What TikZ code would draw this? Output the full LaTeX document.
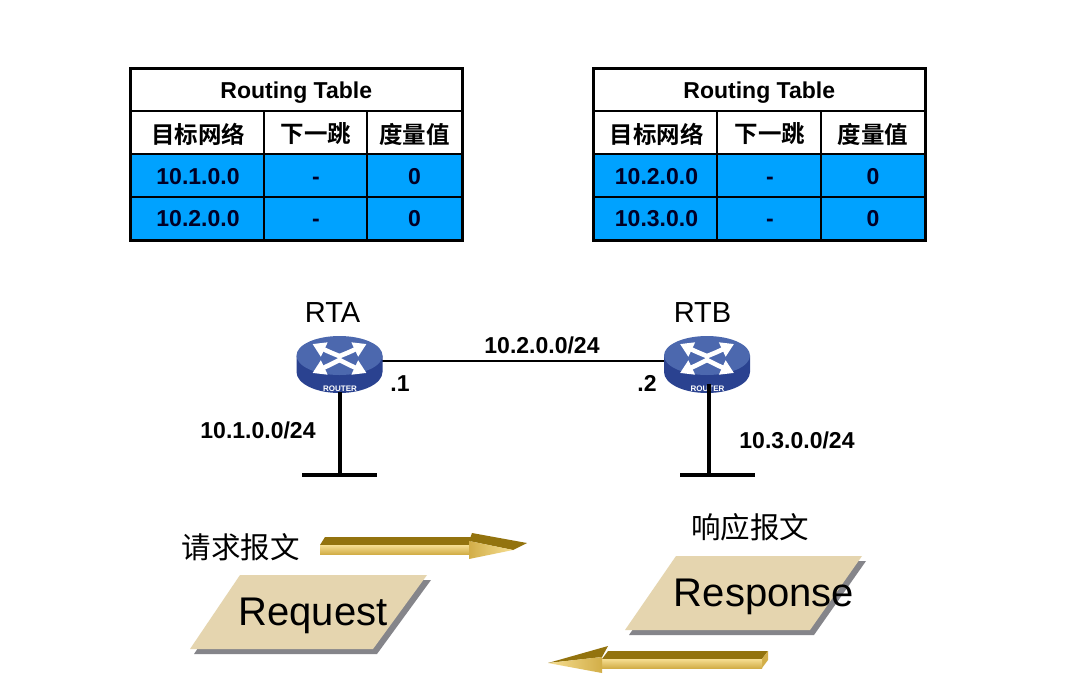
\documentclass[tikz,border=0pt]{standalone}
\usepackage{fontspec}
\setmainfont{Liberation Sans}
\newfontfamily\cjk{Noto Sans CJK SC}
\newfontfamily\cjkb{Noto Sans CJK SC Bold}
\usetikzlibrary{arrows.meta}
\definecolor{cellblue}{HTML}{00A2FF}
\definecolor{tanfill}{HTML}{E5D5AF}
\definecolor{shadegrey}{HTML}{85858A}
\definecolor{rtop}{HTML}{4C68AE}
\definecolor{rside}{HTML}{2A4290}
\definecolor{gdark}{HTML}{93730E}
\definecolor{gmid}{HTML}{D2AE48}
\definecolor{glight}{HTML}{F6DE92}
\tikzset{
 tline/.style={draw=black,line width=1.6pt},
 touter/.style={draw=black,line width=3pt},
 ttitle/.style={anchor=base,inner sep=0,font=\fontsize{23}{24}\selectfont\bfseries,text=black},
 thead/.style={inner sep=0,font=\fontsize{23.5}{25}\selectfont\cjkb,text=black},
 tcell/.style={anchor=base,inner sep=0,font=\fontsize{23}{25}\selectfont\bfseries,text=black!85!blue},
 rname/.style={anchor=base,inner sep=0,font=\fontsize{29}{31}\selectfont},
 netl/.style={anchor=base,inner sep=0,font=\fontsize{23}{25}\selectfont\bfseries},
 cjkl/.style={inner sep=0,font=\fontsize{29.5}{31}\selectfont\cjk},
 msgl/.style={anchor=base,inner sep=0,font=\fontsize{40}{42}\selectfont},
 link/.style={draw=black,line width=2pt},
 stub/.style={draw=black,line width=4pt},
 rarr/.style={draw=white,line width=4.6pt,-{Triangle[length=13pt,width=15pt]}},
}
% #1 prefix, #2 left, #3 col1, #4 col2, #5 right, #6 net row 1, #7 net row 2, #8 centre of col 0, #9 centre of col 1
\newcommand{\rtable}[9]{%
 \fill[white] (#2,68.5) rectangle (#5,240);
 \fill[cellblue] (#2,154) rectangle (#5,240);
 \draw[tline] (#2,111) -- (#5,111) (#2,154) -- (#5,154) (#2,197) -- (#5,197);
 \draw[tline] (#3,111) -- (#3,240) (#4,111) -- (#4,240);
 \draw[touter] (#2,68.5) rectangle (#5,240);
 \node[ttitle] (#1title) at ({(#2+#5)/2},98) {Routing Table};
 \node[thead] (#1h1) at (#8,134) {目标网络};
 \node[thead] (#1h2) at (#9,134) {下一跳};
 \node[thead] (#1h3) at ({(#4+#5)/2},134) {度量值};
 \node[tcell] (#1a1) at (#8,184) {#6};
 \node[tcell] (#1a2) at (#9,184) {-};
 \node[tcell] (#1a3) at ({(#4+#5)/2},184) {0};
 \node[tcell] (#1b1) at (#8,226) {#7};
 \node[tcell] (#1b2) at (#9,226) {-};
 \node[tcell] (#1b3) at ({(#4+#5)/2},226) {0};
}
\newcommand{\routericon}[3]{%
 \begin{scope}[shift={(#1,#2)}]
 \fill[rside] (-43,-2.5) -- (-43,14) arc[x radius=43,y radius=21,start angle=180,end angle=0] -- (43,-2.5) -- cycle;
 \fill[rtop] (0,-2.5) ellipse[x radius=43,y radius=19.5];
 \draw[rarr] (2,-1) -- (-10,-6) -- (-27,-14);
 \draw[rarr] (-2,-1) -- (10,-6) -- (27,-14);
 \draw[rarr] (2,1) -- (-10,7) -- (-27,15);
 \draw[rarr] (-2,1) -- (10,7) -- (27,15);
 \node[white,inner sep=0,font=\fontsize{8}{9}\selectfont\bfseries] (#3label) at (0.5,30.5) {ROUTER};
 \end{scope}
}
\begin{document}
\begin{tikzpicture}[x=1pt,y=-1pt]
\useasboundingbox (0,0) rectangle (1070,678);
\fill[white] (0,0) rectangle (1070,678);
\rtable{ta}{130.5}{264}{367}{462}{10.1.0.0}{10.2.0.0}{198}{316}
\rtable{tb}{593.5}{717}{821}{925}{10.2.0.0}{10.3.0.0}{656.5}{770}
% named connection points
\coordinate (rta) at (340,361);
\coordinate (rtb) at (707,361);
\coordinate (rtabot) at (340,392);
\coordinate (rtbbot) at (709,384);
\coordinate (neta) at (340,475);
\coordinate (netb) at (709,475);
\coordinate (netal) at (302,475);
\coordinate (netar) at (377,475);
\coordinate (netbl) at (680,475);
\coordinate (netbr) at (755,475);
% connectors
\draw[link] (rta) -- (rtb);
\routericon{339.5}{358}{rta}
\routericon{707}{358}{rtb}
\draw[stub] (rtabot) -- (neta);
\draw[stub] (rtbbot) -- (netb);
\draw[stub] (netal) -- (netar);
\draw[stub] (netbl) -- (netbr);
% labels
\node[rname] (lrta) at (332.5,322) {RTA};
\node[rname] (lrtb) at (702.5,322) {RTB};
\node[netl] (lmid) at (542,353) {10.2.0.0/24};
\node[netl] (ldota) at (400,391) {.1};
\node[netl] (ldotb) at (647,391) {.2};
\node[netl] (lneta) at (258,438) {10.1.0.0/24};
\node[netl] (lnetb) at (797,448) {10.3.0.0/24};
\node[cjkl] (lreq) at (240.5,547) {请求报文};
\node[cjkl] (lresp) at (750,527) {响应报文};
% request message
\fill[shadegrey] (244,580) -- (431,580) -- (377,654) -- (194,654) -- cycle;
\fill[tanfill] (240,575) -- (427,575) -- (373,649) -- (190,649) -- cycle;
\node[msgl] (mreq) at (313,625) {Request};
% response message
\fill[shadegrey] (680,561) -- (866,561) -- (814,635) -- (629,635) -- cycle;
\fill[tanfill] (676,556) -- (862,556) -- (810,630) -- (625,630) -- cycle;
\node[msgl] (mresp) at (764,606) {Response};
% right arrow
\fill[gdark] (320,545) -- (325,537) -- (473,537) -- (469,545) -- cycle;
\fill[gdark] (472,533) -- (527,543) -- (513,550) -- (469,541) -- cycle;
\shade[top color=glight,bottom color=gmid] (320,545) -- (470,545) -- (470,554) -- (320,554) -- cycle;
\shade[left color=gmid,right color=glight] (469,541) -- (513,550) -- (469,559) -- cycle;
% left arrow
\fill[gdark] (608,651) -- (768,651) -- (762,659) -- (602,659) -- cycle;
\fill[gdark] (548,663) -- (608,646) -- (602,657) -- cycle;
\fill[gmid] (768,651) -- (768,660) -- (762,668) -- (762,659) -- cycle;
\shade[top color=glight,bottom color=gmid] (602,659) -- (762,659) -- (762,668) -- (602,668) -- cycle;
\shade[right color=gmid,left color=glight] (548,663) -- (602,657) -- (602,673) -- cycle;
\end{tikzpicture}
\end{document}
